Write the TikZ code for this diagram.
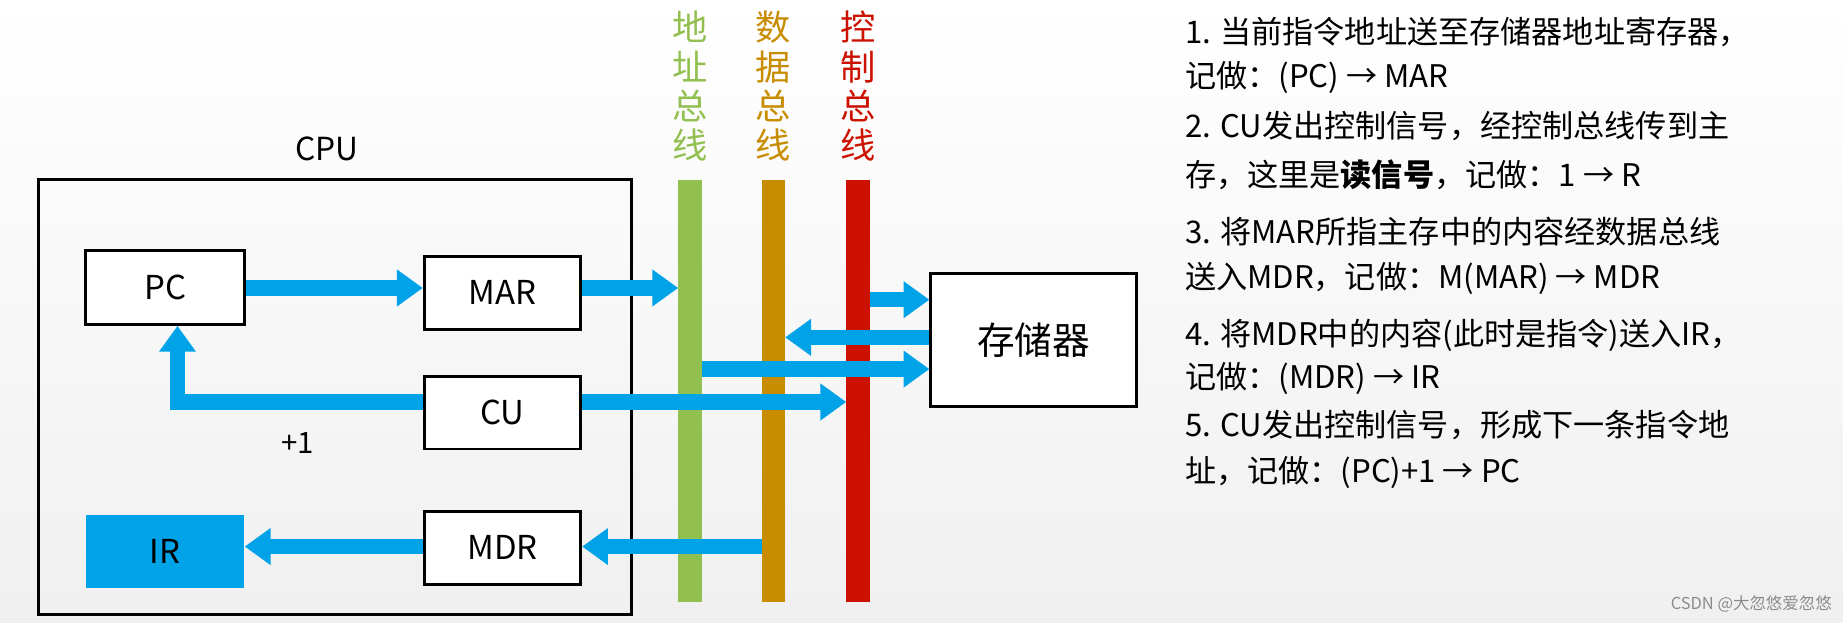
\documentclass[tikz,border=0pt]{standalone}
\usepackage{fontspec}
\setmainfont{Noto Sans CJK SC}
\usetikzlibrary{arrows.meta}
\definecolor{ab}{HTML}{00A2E8}
\definecolor{gbus}{HTML}{92C050}
\definecolor{obus}{HTML}{C88C00}
\definecolor{rbus}{HTML}{CC1100}
\begin{document}
\begin{tikzpicture}[x=1pt,y=-1pt,
  reg/.style={draw=black,line width=2.5pt,fill=white,font=\fontsize{28}{32}\selectfont,inner sep=0pt},
  fat/.style={ab,line width=13pt,-{Triangle[length=22pt,width=30pt]}},
  bus/.style={line width=20pt},
  blab/.style={font=\fontsize{30}{33.5}\selectfont,align=center,anchor=north},
  txt/.style={anchor=west,font=\fontsize{26.5}{30}\selectfont,inner sep=0pt}]
\shade[top color=white,bottom color=black!6] (0,0) rectangle (1568,530);
\useasboundingbox (0,0) rectangle (1568,530);
% buses
\coordinate (at) at (587,153); \coordinate (ab0) at (587,512);
\coordinate (dt) at (658,153); \coordinate (db0) at (658,512);
\coordinate (ct) at (730,153); \coordinate (cb0) at (730,512);
\draw[bus,gbus] (at) -- (ab0);
\draw[bus,obus] (dt) -- (db0);
\draw[bus,rbus] (ct) -- (cb0);
\node[blab,text=gbus] (la) at (587,6) {地\\址\\总\\线};
\node[blab,text=obus] (ld) at (658,6) {数\\据\\总\\线};
\node[blab,text=rbus] (lc) at (730,6) {控\\制\\总\\线};
% CPU
\node[draw=black,line width=2.5pt,minimum width=504pt,minimum height=370pt,inner sep=0pt] (cpu) at (285,338) {};
\node[font=\fontsize{27}{30}\selectfont] (cpul) at (278,127) {CPU};
\node[reg,minimum width=135pt,minimum height=63pt] (pc) at (140.5,244.5) {PC};
\node[reg,minimum width=133pt,minimum height=62pt] (mar) at (427.5,249) {MAR};
\node[reg,minimum width=133pt,minimum height=62pt] (cu) at (427.5,351) {CU};
\node[reg,minimum width=133pt,minimum height=62pt] (mdr) at (427.5,466) {MDR};
\node[fill=ab,minimum width=135pt,minimum height=62pt,inner sep=0pt,font=\fontsize{28}{32}\selectfont] (ir) at (140.5,469) {IR};
\node[reg,minimum width=175pt,minimum height=113pt,font=\fontsize{32}{36}\selectfont] (mem) at (879.5,289.5) {存储器};
\node[font=\fontsize{25}{28}\selectfont] (p1) at (253,377) {+1};
% coordinates on buses
\coordinate (a1) at (577,245);
\coordinate (c1) at (740,255);
\coordinate (d1) at (668,287);
\coordinate (a2) at (597,314);
\coordinate (c2) at (720,342);
\coordinate (d2) at (648,465);
\coordinate (bend) at (151,342);
% arrows
\draw[fat] (pc.east |- 0,245) -- (mar.west |- 0,245);
\draw[fat] (mar.east |- 0,245) -- (a1);
\draw[fat] (c1) -- (mem.west |- c1);
\draw[fat] (mem.west |- d1) -- (d1);
\draw[fat] (a2) -- (mem.west |- a2);
\draw[fat] (cu.east |- c2) -- (c2);
\draw[fat] (cu.west |- bend) -- (bend) -- (pc.south -| bend);
\draw[fat] (d2) -- (mdr.east |- d2);
\draw[fat] (mdr.west |- d2) -- (ir.east |- d2);
% text
\node[txt] (t1) at (1008,27) {1. 当前指令地址送至存储器地址寄存器，};
\node[txt] (t1b) at (1008,66) {记做：(PC) → MAR};
\node[txt] (t2) at (1008,107) {2. CU发出控制信号，经控制总线传到主};
\node[txt] (t2b) at (1008,149) {存，这里是\textbf{读信号}，记做：1 → R};
\node[txt] (t3) at (1008,197) {3. 将MAR所指主存中的内容经数据总线};
\node[txt] (t3b) at (1008,237) {送入MDR，记做：M(MAR) → MDR};
\node[txt] (t4) at (1008,285) {4. 将MDR中的内容(此时是指令)送入IR，};
\node[txt] (t4b) at (1008,322) {记做：(MDR) → IR};
\node[txt] (t5) at (1008,362) {5. CU发出控制信号，形成下一条指令地};
\node[txt] (t5b) at (1008,402) {址，记做：(PC)+1 → PC};
\node[anchor=east,font=\fontsize{14}{16}\selectfont,text=black!45] (wm) at (1562,514) {CSDN @大忽悠爱忽悠};
\end{tikzpicture}
\end{document}
